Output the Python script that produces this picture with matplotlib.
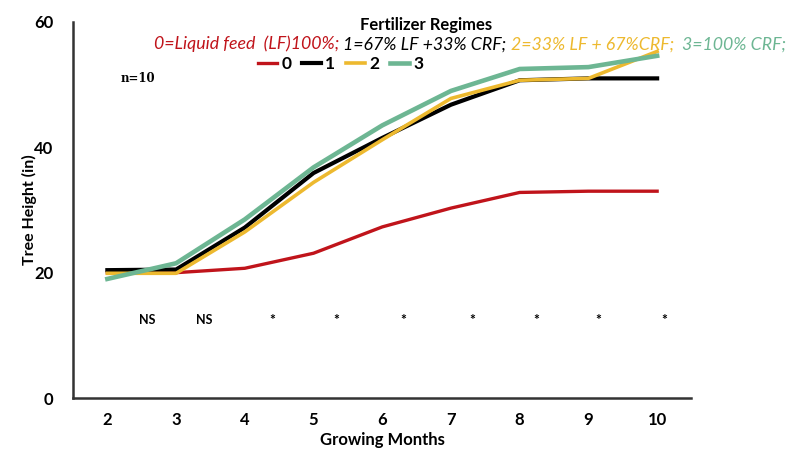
import matplotlib
matplotlib.use("Agg")
import matplotlib.pyplot as plt

plt.rcParams['font.family'] = ['Lato', 'DejaVu Sans']

months = [2, 3, 4, 5, 6, 7, 8, 9, 10]
regime_labels = ["0", "1", "2", "3"]
lf100 = [20.0, 20.0, 20.7, 23.1, 27.3, 30.3, 32.8, 33.0, 33.0]
lf67 = [20.4, 20.5, 27.2, 35.9, 41.5, 46.8, 50.7, 51.0, 51.0]
lf33 = [19.9, 19.9, 26.5, 34.4, 41.2, 47.8, 50.7, 51.0, 55.3]
crf100 = [19.0, 21.5, 28.5, 36.8, 43.5, 49.0, 52.5, 52.8, 54.6]
sig_labels = ["NS", "NS", "*", "*", "*", "*", "*", "*", "*"]
sig_x = [2.58, 3.41, 4.40, 5.33, 6.30, 7.31, 8.24, 9.15, 10.1]
subtitle_parts = ["0=Liquid feed  (LF)100%; ", "1=67% LF +33% CRF; ",
                  "2=33% LF + 67%CRF;  ", "3=100% CRF;"]

colors = ["#C0141B", "#000000", "#EDB92F", "#6DB693"]
widths = [2.4, 3.0, 2.6, 3.3]

fig = plt.figure(figsize=(7.96, 4.58), dpi=100)
ax = fig.add_axes([0.0917, 0.131, 0.777, 0.821])

for series, lab, c, w in zip([lf100, lf67, lf33, crf100], regime_labels, colors, widths):
    ax.plot(months, series, color=c, lw=w, label=lab, solid_joinstyle='round')

for x, s in zip(sig_x, sig_labels):
    ax.text(x, 12.5, s, ha='center', va='center', fontsize=9 if s == "NS" else 10,
            fontweight='bold')

ax.text(2.2, 50.5, "n=10", family='DejaVu Serif', fontsize=8.5, fontweight='bold')

ax.set_xlim(1.5, 10.5)
ax.set_ylim(0, 60)
ax.set_xticks(months)
ax.set_yticks([0, 20, 40, 60])
ax.tick_params(axis='both', length=0, labelsize=12)
ax.tick_params(axis='y', pad=14)
ax.tick_params(axis='x', pad=10)
for lbl in ax.get_xticklabels() + ax.get_yticklabels():
    lbl.set_fontweight('bold')
for sp in ['top', 'right']:
    ax.spines[sp].set_visible(False)
for sp in ['left', 'bottom']:
    ax.spines[sp].set_linewidth(1.8)
    ax.spines[sp].set_color('#333333')

ax.set_xlabel("Growing Months", fontsize=12, fontweight='bold', labelpad=3)
ax.set_ylabel("Tree Height (in)", fontsize=11.5, fontweight='bold')
ax.yaxis.set_label_coords(-0.058, 0.5)

fig.text(0.535, 0.945, "Fertilizer Regimes", ha='center', va='center',
         fontsize=12, fontweight='bold')

# coloured subtitle, pieces chained one after another
prev = ax.annotate(subtitle_parts[0], xy=(0.193, 0.904), xycoords='figure fraction',
                   color=colors[0], fontsize=12.8, style='italic', va='center')
for part, c in zip(subtitle_parts[1:], colors[1:]):
    prev = ax.annotate(part, xy=(1, 0), xycoords=prev, color=c, fontsize=12.8,
                       style='italic', va='bottom')

ax.legend(loc='center', bbox_to_anchor=(0.428, 0.86), bbox_transform=fig.transFigure,
          ncol=4, frameon=False, handlelength=1.1, handletextpad=0.25,
          columnspacing=0.6, prop={'weight': 'bold', 'size': 12.5})

fig.savefig("out.png", dpi=100)
